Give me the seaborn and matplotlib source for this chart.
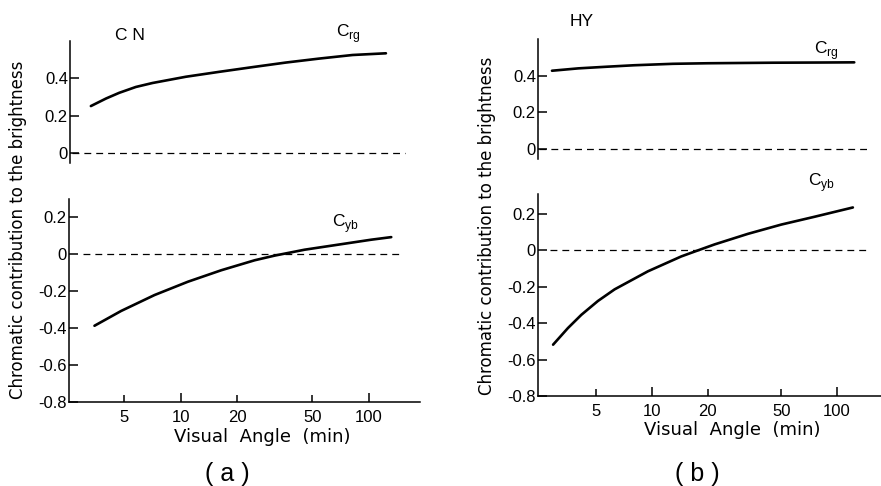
import numpy as np
import pandas as pd
import matplotlib
matplotlib.use("Agg")
import matplotlib.pyplot as plt
import seaborn as sns
from matplotlib.ticker import FixedLocator, FixedFormatter

# values, x = visual angle in min
cn_rg_x = [3.28, 3.95, 4.64, 5.69, 6.98, 10.5, 15.8, 23.8, 35.7, 53.7, 80.9, 121.7]
cn_rg_y = [0.250, 0.290, 0.320, 0.351, 0.372, 0.405, 0.431, 0.456, 0.480, 0.501, 0.520, 0.529]

cn_yb_x = [3.47, 4.81, 7.24, 10.9, 16.4, 24.7, 31.5, 45.5, 68.4, 102.8, 131.5]
cn_yb_y = [-0.388, -0.308, -0.222, -0.150, -0.088, -0.034, -0.009, 0.023, 0.050, 0.077, 0.091]

hy_rg_x = [2.88, 4, 5.7, 8, 13, 20, 45, 80, 124]
hy_rg_y = [0.429, 0.442, 0.451, 0.459, 0.467, 0.470, 0.473, 0.474, 0.475]

hy_yb_x = [2.92, 3.51, 4.15, 5.1, 6.28, 9.5, 14.4, 17.7, 21.8, 33.0, 50.0, 75.7, 121.9]
hy_yb_y = [-0.518, -0.427, -0.354, -0.278, -0.214, -0.115, -0.033, 0.0, 0.033, 0.091, 0.142, 0.185, 0.236]

# extent of the dashed zero lines
cn_zero_top = [2.6, 153]
cn_zero_bot = [3.0, 146]
hy_zero_top = [2.45, 150]
hy_zero_bot = [2.8, 146]

top_ticks = [0, 0.2, 0.4]
top_labels = ["0", "0.2", "0.4"]
bot_ticks = [-0.8, -0.6, -0.4, -0.2, 0, 0.2]
bot_labels = ["-0.8", "-0.6", "-0.4", "-0.2", "0", "0.2"]
x_major = [10, 100]
x_major_labels = ["10", "100"]
x_minor = [5, 20, 50]
x_minor_labels = ["5", "20", "50"]

sns.set_style("ticks")
plt.rcParams["font.family"] = ["Liberation Sans", "DejaVu Sans"]
plt.rcParams["font.size"] = 12
plt.rcParams["axes.linewidth"] = 1.1
for k in ["axes.edgecolor", "text.color", "axes.labelcolor", "xtick.color", "ytick.color"]:
    plt.rcParams[k] = "black"

wide = ["DejaVu Sans"]

W, H = 881, 486
fig = plt.figure(figsize=(W / 100, H / 100), dpi=100)


def px(left, top, right, bottom):
    return [left / W, 1 - bottom / H, (right - left) / W, (bottom - top) / H]


def style_axis(ax, ticks, labels, xlim, ylim, bottom):
    ax.set_xscale("log")
    ax.set_xlim(*xlim)
    ax.set_ylim(*ylim)
    ax.yaxis.set_major_locator(FixedLocator(ticks))
    ax.yaxis.set_major_formatter(FixedFormatter(labels))
    ax.tick_params(axis="y", direction="in", length=6.5, width=1.1, pad=1.5, labelsize=12)
    ax.spines["top"].set_visible(False)
    ax.spines["right"].set_visible(False)
    ax.set_xlabel("")
    ax.set_ylabel("")
    ax.patch.set_alpha(0)
    if bottom:
        ax.xaxis.set_major_locator(FixedLocator(x_major))
        ax.xaxis.set_major_formatter(FixedFormatter(x_major_labels))
        ax.xaxis.set_minor_locator(FixedLocator(x_minor))
        ax.xaxis.set_minor_formatter(FixedFormatter(x_minor_labels))
        ax.tick_params(axis="x", which="major", direction="in", length=6.5, width=1.1, pad=6, labelsize=12)
        ax.tick_params(axis="x", which="minor", direction="in", length=5, width=1.1, pad=6, labelsize=12)
    else:
        ax.spines["bottom"].set_visible(False)
        ax.xaxis.set_visible(False)


def draw(ax, xs, ys, zero_x):
    df = pd.DataFrame({"angle": xs, "c": ys})
    sns.lineplot(data=df, x="angle", y="c", ax=ax, color="black", linewidth=1.9)
    ax.plot(zero_x, [0, 0], color="black", linewidth=0.9, linestyle=(0, (5.5, 4)))


panels = [
    dict(top=px(70, 41, 421, 163), bot=px(69, 199, 420, 402), xlim=(2.54, 187),
         ylim_top=(-0.051, 0.594), ylim_bot=(-0.8, 0.297),
         rg=(cn_rg_x, cn_rg_y), yb=(cn_yb_x, cn_yb_y), z=(cn_zero_top, cn_zero_bot)),
    dict(top=px(538, 39, 881, 159), bot=px(538, 194, 881, 396), xlim=(2.42, 173),
         ylim_top=(-0.055, 0.603), ylim_bot=(-0.8, 0.31),
         rg=(hy_rg_x, hy_rg_y), yb=(hy_yb_x, hy_yb_y), z=(hy_zero_top, hy_zero_bot)),
]

for p in panels:
    ax_t = fig.add_axes(p["top"])
    ax_b = fig.add_axes(p["bot"])
    draw(ax_t, *p["rg"], p["z"][0])
    draw(ax_b, *p["yb"], p["z"][1])
    style_axis(ax_t, top_ticks, top_labels, p["xlim"], p["ylim_top"], False)
    style_axis(ax_b, bot_ticks, bot_labels, p["xlim"], p["ylim_bot"], True)


def label(x, y, s, **kw):
    fig.text(x / W, 1 - y / H, s, ha="center", va="center", **kw)


ylab = "Chromatic contribution to the brightness"
label(18, 230, ylab, rotation=90, fontsize=12, family=wide)
label(487, 226, ylab, rotation=90, fontsize=12, family=wide)
label(262, 437, "Visual  Angle  (min)", fontsize=13, family=wide)
label(732, 430, "Visual  Angle  (min)", fontsize=13, family=wide)
label(227, 474, "( a )", fontsize=18)
label(697, 474, "( b )", fontsize=18)
label(130, 35, "C N", fontsize=12.5)
label(582, 21, "HY", fontsize=12.5)
label(348, 34, r"C$_\mathregular{rg}$", fontsize=12.5)
label(346, 224, r"C$_\mathregular{yb}$", fontsize=12.5)
label(826, 51, r"C$_\mathregular{rg}$", fontsize=12.5)
label(822, 183, r"C$_\mathregular{yb}$", fontsize=12.5)

fig.savefig("out.png", dpi=100)
